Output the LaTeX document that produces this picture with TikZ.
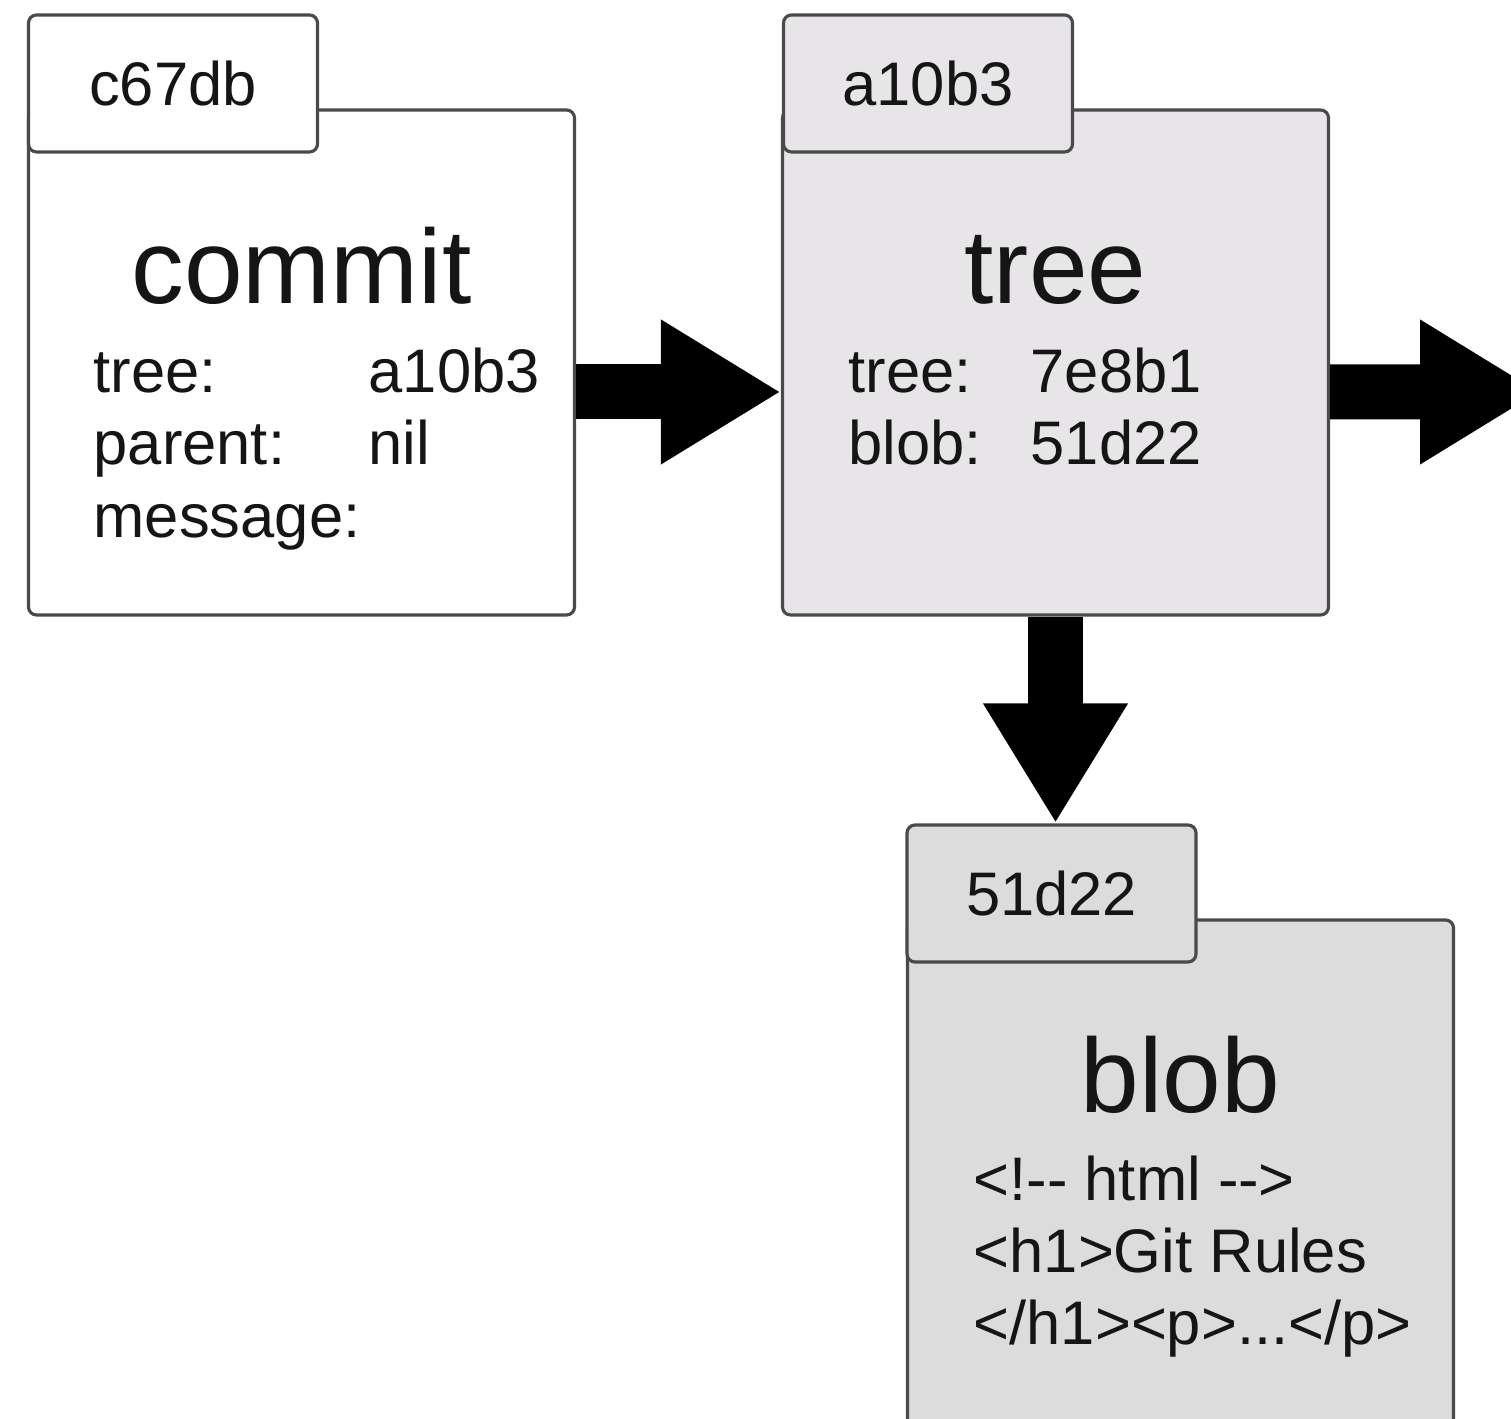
\documentclass[tikz,border=0pt]{standalone}
\usepackage{fontspec}
\setmainfont{Liberation Sans}
\usepackage{xcolor}
\usepackage{tikz}
\usetikzlibrary{arrows.meta,positioning,calc}
\definecolor{gitLine}{HTML}{4A4A4A}
\definecolor{gitInk}{HTML}{151515}
\definecolor{treeGray}{HTML}{E7E5E8}
\definecolor{blobGray}{HTML}{DDDCDD}
\newcommand{\fieldfont}{\fontsize{17.5pt}{21pt}\selectfont}
\newcommand{\kindfont}{\fontsize{30pt}{36pt}\selectfont}

\begin{document}
\begin{tikzpicture}[text=gitInk,
  body/.style={draw=gitLine,line width=0.9pt,rounded corners=0.8mm,
    minimum width=5.46cm,minimum height=5.05cm,inner sep=0pt},
  tab/.style={draw=gitLine,line width=0.9pt,rounded corners=0.8mm,
    minimum width=2.89cm,minimum height=1.37cm,inner sep=0pt,font=\fieldfont},
  kind/.style={anchor=base,inner sep=0pt,font=\kindfont},
  field/.style={anchor=base west,inner sep=0pt,font=\fieldfont},
  fat/.style={line width=5.5mm,-{Triangle[length=12mm,width=13.6mm]}}]
\clip (0,0) rectangle (15.11,14.18);
% --- commit ---
\node[body,fill=white] (cbody) at (3.015,10.555) {};
\node[tab,fill=white] (ctab) at (1.73,13.345) {c67db};
\node[kind] (ckind) at (3.015,11.14) {commit};
\node[field] (ctree) at (0.93,10.25) {tree:};
\node[field] (cpar) at (0.93,9.53) {parent:};
\node[field] (cmsg) at (0.93,8.80) {message:};
\node[field] (ctreev) at (3.68,10.25) {a10b3};
\node[field] (cparv) at (3.68,9.53) {nil};
% --- tree ---
\node[body,fill=treeGray] (tbody) at (10.555,10.555) {};
\node[tab,fill=treeGray] (ttab) at (9.28,13.345) {a10b3};
\node[kind] (tkind) at (10.555,11.14) {tree};
\node[field] (ttree) at (8.48,10.25) {tree:};
\node[field] (tblob) at (8.48,9.53) {blob:};
\node[field] (ttreev) at (10.30,10.25) {7e8b1};
\node[field] (tblobv) at (10.30,9.53) {51d22};
% --- blob ---
\node[body,fill=blobGray,minimum height=5.6cm] (bbody) at (11.805,2.18) {};
\node[tab,fill=blobGray] (btab) at (10.515,5.245) {51d22};
\node[kind] (bkind) at (11.805,3.06) {blob};
\node[field] (bline1) at (9.73,2.18) {<!-{}- html -{}->};
\node[field] (bline2) at (9.73,1.46) {<h1>Git Rules};
\node[field] (bline3) at (9.73,0.74) {</h1><p>...</p>};
% --- pointers ---
\coordinate (offpage) at (15.40,10.26);
\draw[fat] ([yshift=-2.95mm]cbody.east) -- ([yshift=-2.95mm]tbody.west);
\draw[fat] ([yshift=-2.95mm]tbody.east) -- (offpage);
\draw[fat] (tbody.south) -- (tbody.south |- btab.north);
\end{tikzpicture}
\end{document}
